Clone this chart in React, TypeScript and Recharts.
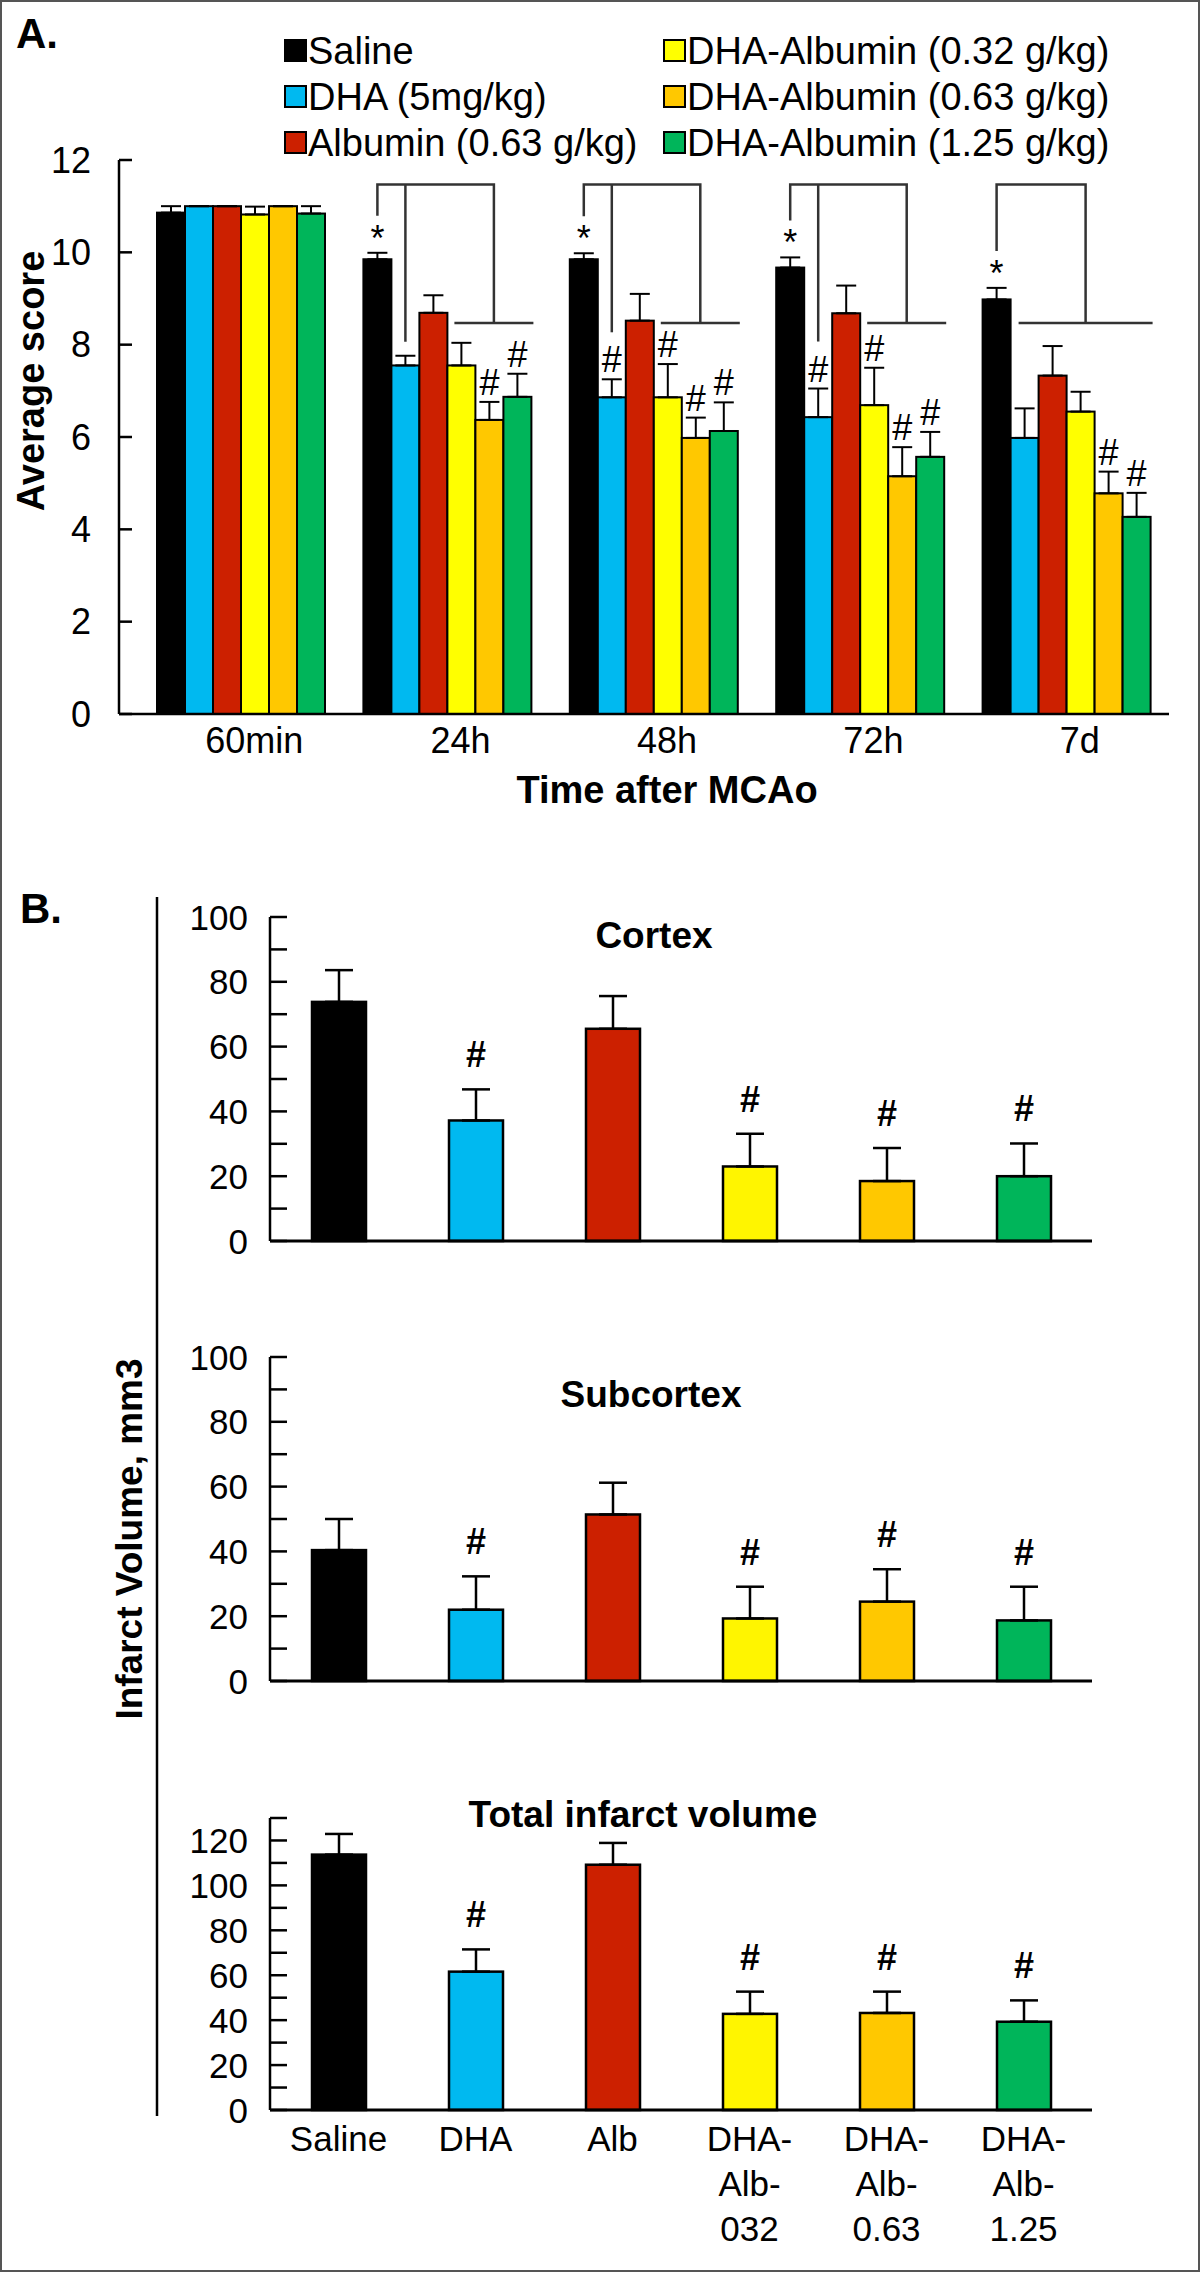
import { BarChart, Bar, XAxis, YAxis, ErrorBar, Cell } from 'recharts'

const FONT = '"Liberation Sans", Arial, Helvetica, sans-serif'

// ---- Panel A: average neuro score after MCAo ----
const timepoints = ['60min', '24h', '48h', '72h', '7d']
const saline = [10.86, 9.85, 9.85, 9.67, 8.98]
const salineErr = [0.14, 0.14, 0.13, 0.22, 0.25]
const dha = [11.0, 7.55, 6.86, 6.43, 5.98]
const dhaErr = [0, 0.21, 0.39, 0.62, 0.64]
const albumin = [11.0, 8.69, 8.52, 8.68, 7.33]
const albuminErr = [0, 0.38, 0.58, 0.6, 0.64]
const dhaAlb032 = [10.82, 7.55, 6.86, 6.69, 6.55]
const dhaAlb032Err = [0.17, 0.49, 0.72, 0.81, 0.43]
const dhaAlb063 = [11.0, 6.37, 5.98, 5.15, 4.78]
const dhaAlb063Err = [0, 0.39, 0.44, 0.63, 0.47]
const dhaAlb125 = [10.84, 6.87, 6.13, 5.57, 4.27]
const dhaAlb125Err = [0.16, 0.5, 0.62, 0.54, 0.52]

// significance marks
const salineStar = [false, true, true, true, true]
const dhaHash = [false, false, true, true, false]
const albuminHash = [false, false, false, false, false]
const dhaAlb032Hash = [false, false, true, true, false]
const dhaAlb063Hash = [false, true, true, true, true]
const dhaAlb125Hash = [false, true, true, true, true]
const bracketToDha = [false, true, true, true, false]
const scoreTicks = [0, 2, 4, 6, 8, 10, 12]

// ---- Panel B: infarct volume ----
const groups = ['Saline', 'DHA', 'Alb', 'DHA-Alb-032', 'DHA-Alb-0.63', 'DHA-Alb-1.25']
const cortex = [73.8, 37.2, 65.5, 23.0, 18.5, 20.0]
const cortexErr = [9.8, 9.6, 10.1, 10.1, 10.2, 10.1]
const subcortex = [40.4, 22.0, 51.4, 19.3, 24.5, 18.7]
const subcortexErr = [9.6, 10.3, 9.8, 9.8, 10.0, 10.4]
const total = [113.7, 61.6, 109.2, 42.8, 43.2, 39.3]
const totalErr = [9.2, 9.9, 9.7, 9.9, 9.5, 9.5]
const groupHash = [false, true, false, true, true, true]
const volTicks100 = [0, 10, 20, 30, 40, 50, 60, 70, 80, 90, 100]
const volTicks130 = [0, 10, 20, 30, 40, 50, 60, 70, 80, 90, 100, 110, 120, 130]

const BLACK = '#000000'
const BLUE = '#00B9F0'
const RED = '#CC2000'
const YELLOW = '#FFFF00'
const ORANGE = '#FFC800'
const GREEN = '#00B55A'
const groupColors = [BLACK, BLUE, RED, '#FFF500', ORANGE, GREEN]

const seriesA = [
  { key: 'saline', name: 'Saline', color: BLACK, values: saline, errs: salineErr, hash: salineStar.map(() => false) },
  { key: 'dha', name: 'DHA (5mg/kg)', color: BLUE, values: dha, errs: dhaErr, hash: dhaHash },
  { key: 'albumin', name: 'Albumin (0.63 g/kg)', color: RED, values: albumin, errs: albuminErr, hash: albuminHash },
  { key: 'dhaAlb032', name: 'DHA-Albumin (0.32 g/kg)', color: YELLOW, values: dhaAlb032, errs: dhaAlb032Err, hash: dhaAlb032Hash },
  { key: 'dhaAlb063', name: 'DHA-Albumin (0.63 g/kg)', color: ORANGE, values: dhaAlb063, errs: dhaAlb063Err, hash: dhaAlb063Hash },
  { key: 'dhaAlb125', name: 'DHA-Albumin (1.25 g/kg)', color: GREEN, values: dhaAlb125, errs: dhaAlb125Err, hash: dhaAlb125Hash },
]

const scoreData = timepoints.map((t, i) => {
  const row: any = { time: t }
  seriesA.forEach((s) => {
    row[s.key] = s.values[i]
    row[s.key + 'Err'] = [0, s.errs[i]]
  })
  return row
})

// bracket levels (score units)
const BRACKET_TOP = 11.47
const BRACKET_LOW = 8.47

function makeYTick(margin: number, len: number, fontSize: number, every: number) {
  return (p: any) => {
    const ax = p.x + margin
    const v = p.payload.value
    return (
      <g>
        <line x1={ax} x2={ax + len} y1={p.y} y2={p.y} stroke="#000" strokeWidth={2.5} />
        {v % every === 0 && (
          <text x={p.x} y={p.y} textAnchor="end" dominantBaseline="central" fontSize={fontSize} fontFamily={FONT} fill="#000">
            {v}
          </text>
        )}
      </g>
    )
  }
}

const TimeTick = (p: any) => (
  <text x={p.x + 14} y={p.y + 39} textAnchor="middle" fontSize={36} fontFamily={FONT} fill="#000">
    {p.payload.value}
  </text>
)

const GroupTick = (p: any) => {
  const lines = String(p.payload.value).split(/(?<=-)/)
  return (
    <text x={p.x} y={p.y + 41} textAnchor="middle" fontSize={35} fontFamily={FONT} fill="#000">
      {lines.map((l, i) => (
        <tspan key={i} x={p.x} dy={i === 0 ? 0 : 45}>{l}</tspan>
      ))}
    </text>
  )
}

function scoreShape(s: any, si: number) {
  return (p: any) => {
    const { x, y, width, height, index } = p
    const ppu = height / s.values[index]
    const base = y + height
    const yOf = (v: number) => base - v * ppu
    const errTop = y - s.errs[index] * ppu
    const cx = x + width / 2
    const lc = '#333'
    let extra = null
    if (si === 0 && salineStar[index]) {
      const topY = yOf(BRACKET_TOP)
      const lowY = yOf(BRACKET_LOW)
      const toDha = bracketToDha[index]
      const start = toDha ? x + 3 * width + 7 : x + width + 8
      const end = x + 6 * width + 2
      const mid = (start + end) / 2
      const bx = x + 1.5 * width
      const dhaTop = yOf(dha[index] + dhaErr[index]) - (dhaHash[index] ? 47 : 14)
      extra = (
        <g>
          <polyline points={`${cx},${errTop - 37} ${cx},${topY} ${mid},${topY} ${mid},${lowY}`} fill="none" stroke={lc} strokeWidth={2.5} />
          <line x1={start} x2={end} y1={lowY} y2={lowY} stroke={lc} strokeWidth={2.5} />
          {toDha && <line x1={bx} x2={bx} y1={topY} y2={dhaTop} stroke={lc} strokeWidth={2.5} />}
          <text x={cx} y={errTop - 2} textAnchor="middle" fontSize={36} fontFamily={FONT} fill="#000">*</text>
        </g>
      )
    } else if (s.hash[index]) {
      extra = (
        <text x={cx} y={errTop - 7} textAnchor="middle" fontSize={36} fontFamily={FONT} fill="#000">#</text>
      )
    }
    return (
      <g>
        <rect x={x} y={y} width={width} height={height} fill={s.color} stroke="#000" strokeWidth={2} />
        {extra}
      </g>
    )
  }
}

function volShape(p: any) {
  const { x, y, width, height, index, value } = p
  const ppu = height / value
  const errTop = y - (p.payload.err[1] || 0) * ppu
  return (
    <g>
      <rect x={x} y={y} width={width} height={height} fill={p.fill} stroke="#000" strokeWidth={2.5} />
      {groupHash[index] && (
        <text x={x + width / 2} y={errTop - 22} textAnchor="middle" fontSize={36} fontWeight="bold" fontFamily={FONT} fill="#000">#</text>
      )}
    </g>
  )
}

function VolumeChart({ plotTop, plotBottom, values, errs, max, ticks, showX }: any) {
  const xh = showX ? 150 : 10
  const top = plotTop - 40
  const h = plotBottom - plotTop + 40 + xh + 10
  const data = groups.map((g, i) => ({ group: g, value: values[i], err: [0, errs[i]] }))
  return (
    <div style={{ position: 'absolute', left: 0, top }}>
      <BarChart width={1200} height={h} data={data} margin={{ top: 40, right: 108, bottom: 10, left: 210 }}>
        <XAxis
          dataKey="group"
          height={xh}
          interval={0}
          tickLine={false}
          tickSize={0}
          tickMargin={0}
          axisLine={{ stroke: '#000', strokeWidth: 3 }}
          tick={showX ? <GroupTick /> : false}
        />
        <YAxis
          width={60}
          domain={[0, max]}
          ticks={ticks}
          interval={0}
          tickSize={0}
          tickMargin={22}
          tickLine={false}
          axisLine={{ stroke: '#000', strokeWidth: 2.5 }}
          tick={makeYTick(22, 17, 35, 20)}
        />
        <Bar dataKey="value" barSize={54} isAnimationActive={false} shape={volShape}>
          {data.map((_, i) => (
            <Cell key={i} fill={groupColors[i]} />
          ))}
          <ErrorBar dataKey="err" width={14} stroke="#000" strokeWidth={2.5} direction="y" />
        </Bar>
      </BarChart>
    </div>
  )
}

export default function App() {
  const legendRows = [0, 1, 2]
  return (
    <div style={{ position: 'absolute', left: 0, top: 0, width: 1200, height: 2272, background: '#fff' }}>
      <svg width={1200} height={2272} style={{ position: 'absolute', left: 0, top: 0 }} fontFamily={FONT}>
        <rect x={1} y={1} width={1198} height={2270} fill="#fff" stroke="#555" strokeWidth={2} />
        <text x={16} y={48} fontSize={42} fontWeight="bold">A.</text>
        {seriesA.map((s, i) => {
          const col = Math.floor(i / 3)
          const row = legendRows[i % 3]
          const sx = col === 0 ? 285 : 664
          const by = 64 + row * 46
          return (
            <g key={s.key}>
              <rect x={sx} y={by - 24} width={21} height={21} fill={s.color} stroke="#000" strokeWidth={2} />
              <text x={sx + 23} y={by} fontSize={38}>{s.name}</text>
            </g>
          )
        })}
        <text transform="translate(31,381) rotate(-90)" textAnchor="middle" dominantBaseline="central" fontSize={38} fontWeight="bold">
          Average score
        </text>
        <text x={667} y={803} textAnchor="middle" fontSize={38} fontWeight="bold">Time after MCAo</text>

        <text x={20} y={923} fontSize={42} fontWeight="bold">B.</text>
        <line x1={157} x2={157} y1={897} y2={2116} stroke="#000" strokeWidth={2.5} />
        <text transform="translate(129,1539) rotate(-90)" textAnchor="middle" dominantBaseline="central" fontSize={37} fontWeight="bold">
          Infarct Volume, mm3
        </text>
        <text x={654} y={948} textAnchor="middle" fontSize={37} fontWeight="bold">Cortex</text>
        <text x={651} y={1407} textAnchor="middle" fontSize={37} fontWeight="bold">Subcortex</text>
        <text x={643} y={1827} textAnchor="middle" fontSize={37} fontWeight="bold">Total infarct volume</text>
      </svg>

      <div style={{ position: 'absolute', left: 0, top: 0 }}>
        <BarChart
          width={1200}
          height={800}
          data={scoreData}
          margin={{ top: 160, right: 31, bottom: 46, left: 59 }}
          barCategoryGap={20}
          barGap={0}
        >
          <XAxis
            dataKey="time"
            height={40}
            interval={0}
            padding={{ left: 18, right: 0 }}
            tickLine={false}
            tickSize={0}
            tickMargin={0}
            axisLine={{ stroke: '#000', strokeWidth: 2.5 }}
            tick={<TimeTick />}
          />
          <YAxis
            width={60}
            domain={[0, 12]}
            ticks={scoreTicks}
            interval={0}
            tickSize={0}
            tickMargin={28}
            tickLine={false}
            axisLine={{ stroke: '#000', strokeWidth: 2.5 }}
            tick={makeYTick(28, 13, 36, 2)}
          />
          {seriesA.map((s, si) => (
            <Bar key={s.key} dataKey={s.key} name={s.name} fill={s.color} isAnimationActive={false} shape={scoreShape(s, si)}>
              <ErrorBar dataKey={s.key + 'Err'} width={10} stroke="#000" strokeWidth={2} direction="y" />
            </Bar>
          ))}
        </BarChart>
      </div>

      <VolumeChart plotTop={917} plotBottom={1241} values={cortex} errs={cortexErr} max={100} ticks={volTicks100} showX={false} />
      <VolumeChart plotTop={1357} plotBottom={1681} values={subcortex} errs={subcortexErr} max={100} ticks={volTicks100} showX={false} />
      <VolumeChart plotTop={1818} plotBottom={2110} values={total} errs={totalErr} max={130} ticks={volTicks130} showX={true} />
    </div>
  )
}
